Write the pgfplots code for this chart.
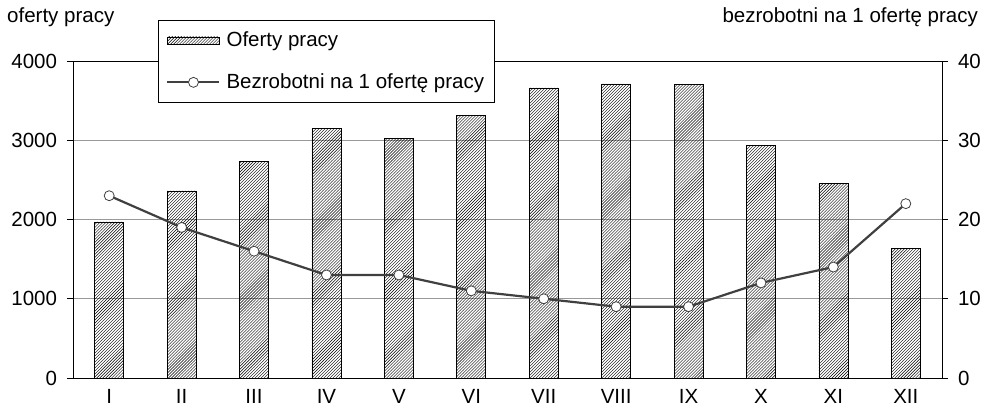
\documentclass[border=0pt]{standalone}
\usepackage{fontspec}
\setmainfont{Liberation Sans}
\usepackage{pgfplots}
\pgfplotsset{compat=1.18}
\usetikzlibrary{patterns}
\definecolor{lc}{HTML}{404040}
\begin{document}
\fontsize{20.5bp}{24bp}\selectfont
\begin{tikzpicture}[x=1bp,y=1bp]
\path[use as bounding box] (-73bp,-34bp) rectangle (915bp,378bp);
\begin{axis}[
  at={(0,0)}, anchor=south west,
  scale only axis, width=869bp, height=317bp,
  xmin=-0.5, xmax=11.5, ymin=0, ymax=4000,
  axis x line*=bottom, axis y line*=left,
  xtick={0,...,11}, xticklabels={I,II,III,IV,V,VI,VII,VIII,IX,X,XI,XII},
  major x tick style={draw=none},
  ytick={0,1000,2000,3000,4000},
  ymajorgrids, grid style={gray!80, line width=0.6pt},
  y tick style={black, line width=0.8pt},
  tick align=outside, major tick length=6bp,
  axis line style={black, line width=0.9pt},
  /pgf/number format/assume math mode=true,
  /pgf/number format/1000 sep={},
  ticklabel style={font=\fontsize{20.5bp}{24bp}\selectfont},
  xticklabel style={yshift=2bp},
  yticklabel style={xshift=-3bp},
  clip=false,
]
\addplot[ybar, bar width=29bp, draw=black, line width=0.6pt, pattern=north east lines, pattern color=black]
 coordinates {(0,1970) (1,2360) (2,2730) (3,3150) (4,3020) (5,3310) (6,3660) (7,3710) (8,3700) (9,2930) (10,2460) (11,1640)};
\draw[black, line width=0.9pt] (rel axis cs:0,1) -- (rel axis cs:1,1);
\end{axis}
\begin{axis}[
  at={(0,0)}, anchor=south west,
  scale only axis, width=869bp, height=317bp,
  xmin=-0.5, xmax=11.5, ymin=0, ymax=40,
  axis x line=none, axis y line*=right,
  ytick={0,10,20,30,40},
  y tick style={black, line width=0.8pt},
  tick align=outside, major tick length=6bp,
  axis line style={black, line width=0.9pt},
  /pgf/number format/assume math mode=true,
  ticklabel style={font=\fontsize{20.5bp}{24bp}\selectfont},
  yticklabel style={xshift=3bp},
  clip=false,
  legend image code/.code={\draw[mark repeat=2,mark phase=2,#1] plot coordinates {(0bp,0bp) (26bp,0bp) (52bp,0bp)};},
  legend style={at={(axis description cs:0.0978,1.129)}, anchor=north west,
    draw=black, line width=0.8pt, fill=white, font=\fontsize{20.5bp}{24bp}\selectfont,
    row sep=20bp, inner xsep=8bp, inner ysep=9bp, cells={anchor=west},
    /tikz/every odd column/.append style={column sep=4bp}},
]
\addlegendimage{legend image code/.code={\draw[draw=black, line width=0.5pt, pattern=north east lines, pattern color=black] (0bp,-3.5bp) rectangle (52bp,3.5bp);}}
\addlegendentry{Oferty pracy}
\addplot[color=lc, line width=2.2pt, mark=*, mark size=5bp, mark options={fill=white, draw=lc, line width=0.8pt}]
 coordinates {(0,23) (1,19) (2,16) (3,13) (4,13) (5,11) (6,10) (7,9) (8,9) (9,12) (10,14) (11,22)};
\addlegendentry{Bezrobotni na 1 ofertę pracy}
\end{axis}
\node[anchor=west, inner sep=0] at (-66bp,361bp) {oferty pracy};
\node[anchor=east, inner sep=0] at (905bp,361bp) {bezrobotni na 1 ofertę pracy};
\end{tikzpicture}
\end{document}
